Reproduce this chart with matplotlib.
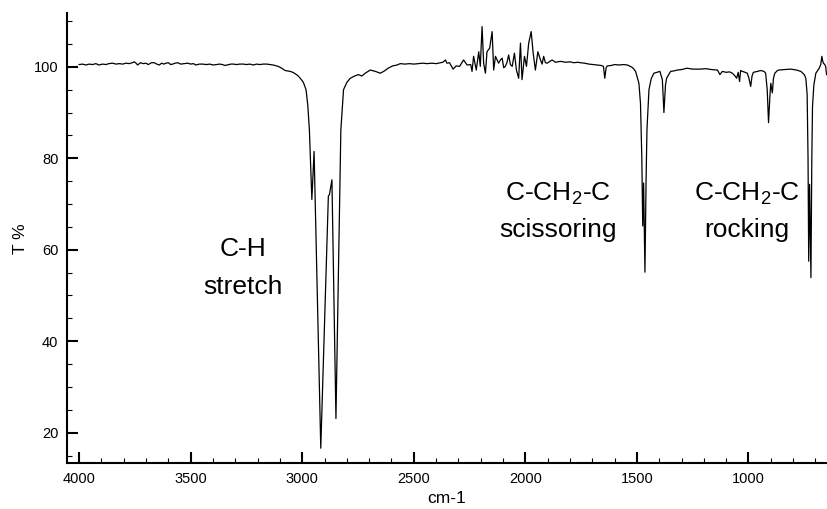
import matplotlib
matplotlib.use("Agg")
import matplotlib.pyplot as plt
import numpy as np

plt.rcParams['font.family'] = ['Liberation Sans', 'DejaVu Sans']
plt.rcParams['mathtext.default'] = 'regular'

# wavenumber (cm-1) and transmittance (%)
wavenumber = [
    4000, 3985, 3970, 3955, 3940, 3925, 3911, 3895, 3880, 3867, 3850, 3835, 3820, 3805,
    3790, 3775, 3762, 3753, 3745, 3738, 3725, 3712, 3701, 3690, 3676, 3663, 3652, 3641,
    3630, 3620, 3611, 3600, 3590, 3581, 3570, 3558, 3545, 3530, 3513, 3500, 3488, 3476,
    3462, 3446, 3430, 3415, 3399, 3385, 3370, 3358, 3346, 3330, 3320, 3309, 3295, 3280,
    3264, 3250, 3235, 3219, 3205, 3190, 3175, 3159, 3145, 3130, 3122, 3108, 3092, 3077,
    3065, 3054, 3042, 3032, 3020, 3009, 2995, 2983, 2975, 2968, 2957, 2947, 2917, 2883,
    2878, 2867, 2849, 2827, 2815, 2800, 2785, 2765, 2748, 2733, 2715, 2695, 2672, 2650,
    2632, 2615, 2595, 2575, 2561, 2540, 2520, 2500, 2480, 2460, 2440, 2420, 2400, 2381,
    2370, 2358, 2352, 2340, 2324, 2310, 2295, 2277, 2261, 2245, 2239, 2232, 2220, 2209,
    2202, 2194, 2187, 2179, 2172, 2160, 2149, 2142, 2134, 2120, 2112, 2104, 2097, 2090,
    2082, 2075, 2067, 2059, 2049, 2040, 2030, 2022, 2015, 2004, 1995, 1985, 1974, 1965,
    1955, 1944, 1932, 1925, 1918, 1910, 1902, 1890, 1880, 1865, 1843, 1820, 1800, 1783,
    1765, 1753, 1735, 1715, 1695, 1678, 1660, 1650, 1644, 1638, 1633, 1615, 1600, 1580,
    1560, 1543, 1525, 1515, 1506, 1491, 1484, 1478, 1474, 1470, 1464, 1459, 1455, 1446,
    1436, 1424, 1410, 1397, 1386, 1379, 1372, 1367, 1349, 1335, 1319, 1300, 1276, 1250,
    1215, 1190, 1165, 1139, 1128, 1117, 1100, 1085, 1072, 1060, 1053, 1046, 1040, 1035,
    1027, 1015, 1005, 998, 990, 984, 978, 960, 945, 930, 923, 916, 910, 904,
    900, 893, 888, 882, 870, 863, 840, 810, 785, 765, 750, 743, 737, 733,
    730, 726, 720, 716, 713, 707, 698, 690, 683, 676, 671, 667, 664, 658,
    654, 650]
transmittance = [
    100.5, 100.6, 100.4, 100.6, 100.5, 100.7, 100.4, 100.6, 100.5, 100.7, 100.8, 100.6, 100.7, 100.6,
    100.8, 100.7, 100.9, 101.1, 100.8, 100.4, 100.9, 100.7, 100.8, 100.5, 100.9, 100.9, 100.6, 100.4,
    100.8, 100.6, 100.8, 100.9, 100.5, 100.6, 100.8, 100.9, 100.6, 100.7, 100.8, 100.6, 100.7, 100.4,
    100.6, 100.6, 100.5, 100.6, 100.4, 100.5, 100.6, 100.5, 100.3, 100.5, 100.6, 100.6, 100.5, 100.6,
    100.6, 100.5, 100.6, 100.4, 100.6, 100.5, 100.6, 100.6, 100.5, 100.4, 100.3, 100.1, 99.7, 99.2,
    99.1, 99.0, 98.8, 98.5, 98.1, 97.5, 96.6, 95.0, 91.5, 86.2, 71.0, 81.5, 16.6, 71.7,
    72.1, 75.3, 23.1, 86.2, 95.0, 96.6, 97.5, 98.0, 98.3, 98.0, 98.7, 99.3, 99.0, 98.6,
    99.1, 99.7, 100.2, 100.4, 100.7, 100.6, 100.7, 100.6, 100.7, 100.8, 100.7, 100.8, 100.7, 100.9,
    101.0, 101.5, 100.8, 100.9, 99.5, 100.2, 100.1, 101.5, 100.4, 100.5, 99.0, 102.3, 99.3, 103.3,
    100.1, 108.8, 100.8, 98.6, 103.3, 104.1, 107.7, 99.3, 102.3, 100.8, 101.5, 101.9, 99.8, 100.1,
    101.0, 102.6, 100.5, 100.1, 103.0, 99.3, 97.5, 105.2, 97.2, 102.3, 100.1, 105.2, 107.7, 103.0,
    99.3, 103.3, 101.5, 100.6, 102.3, 100.9, 100.8, 101.2, 101.5, 101.0, 101.2, 101.0, 101.1, 100.9,
    101.0, 100.9, 100.8, 100.6, 100.5, 100.4, 100.3, 100.1, 97.5, 99.8, 100.2, 100.3, 100.5, 100.4,
    100.5, 100.4, 100.0, 99.6, 99.0, 96.4, 92.0, 80.0, 65.2, 74.6, 55.1, 75.0, 86.2, 95.0,
    97.4, 98.6, 98.8, 99.0, 97.2, 90.0, 96.0, 97.5, 99.0, 99.1, 99.3, 99.4, 99.7, 99.5,
    99.5, 99.6, 99.4, 99.3, 98.3, 99.0, 98.8, 98.9, 98.6, 98.0, 97.5, 98.8, 96.8, 99.2,
    99.0, 98.8, 98.6, 97.5, 95.7, 98.0, 98.8, 99.0, 99.2, 99.0, 98.6, 95.0, 87.8, 93.5,
    96.4, 94.3, 97.5, 98.6, 99.2, 99.3, 99.4, 99.5, 99.3, 99.0, 98.3, 97.5, 94.0, 80.0,
    57.5, 74.3, 53.9, 80.0, 91.3, 96.0, 98.6, 99.2, 99.7, 100.5, 102.3, 101.2, 100.8, 100.5,
    100.1, 98.3]

x_major = [4000, 3500, 3000, 2500, 2000, 1500, 1000]
y_major = [20, 40, 60, 80, 100]

fig = plt.figure(figsize=(8.27, 5.09), dpi=100)
ax = fig.add_axes([0.0806, 0.0898, 0.9194, 0.8840])

ax.plot(wavenumber, transmittance, color='black', lw=0.9)

ax.set_xlim(4056, 648)
ax.set_ylim(13.3, 111.7)

ax.set_xticks(x_major)
ax.set_xticks(np.arange(700, 4001, 100), minor=True)
ax.set_yticks(y_major)
ax.set_yticks(np.arange(15, 111, 5), minor=True)

ax.tick_params(which='both', direction='in', labelsize=10.5, pad=6)
ax.tick_params(which='major', length=7.7, width=1.5)
ax.tick_params(which='minor', length=3.5, width=0.8)

for s in ['top', 'right']:
    ax.spines[s].set_visible(False)
for s in ['left', 'bottom']:
    ax.spines[s].set_linewidth(1.5)

ax.set_xlabel('cm-1', fontsize=12.5)
ax.set_ylabel('T %', fontsize=12.5)

# band labels
ax.text(3265, 60.1, 'C-H', fontsize=19, ha='center', va='center')
ax.text(3265, 51.8, 'stretch', fontsize=19, ha='center', va='center')
ax.text(1852, 72.3, 'C-CH$_2$-C', fontsize=19, ha='center', va='center')
ax.text(1852, 64.4, 'scissoring', fontsize=19, ha='center', va='center')
ax.text(1005, 72.3, 'C-CH$_2$-C', fontsize=19, ha='center', va='center')
ax.text(1009, 64.4, 'rocking', fontsize=19, ha='center', va='center')

fig.savefig('out.png', dpi=100)
